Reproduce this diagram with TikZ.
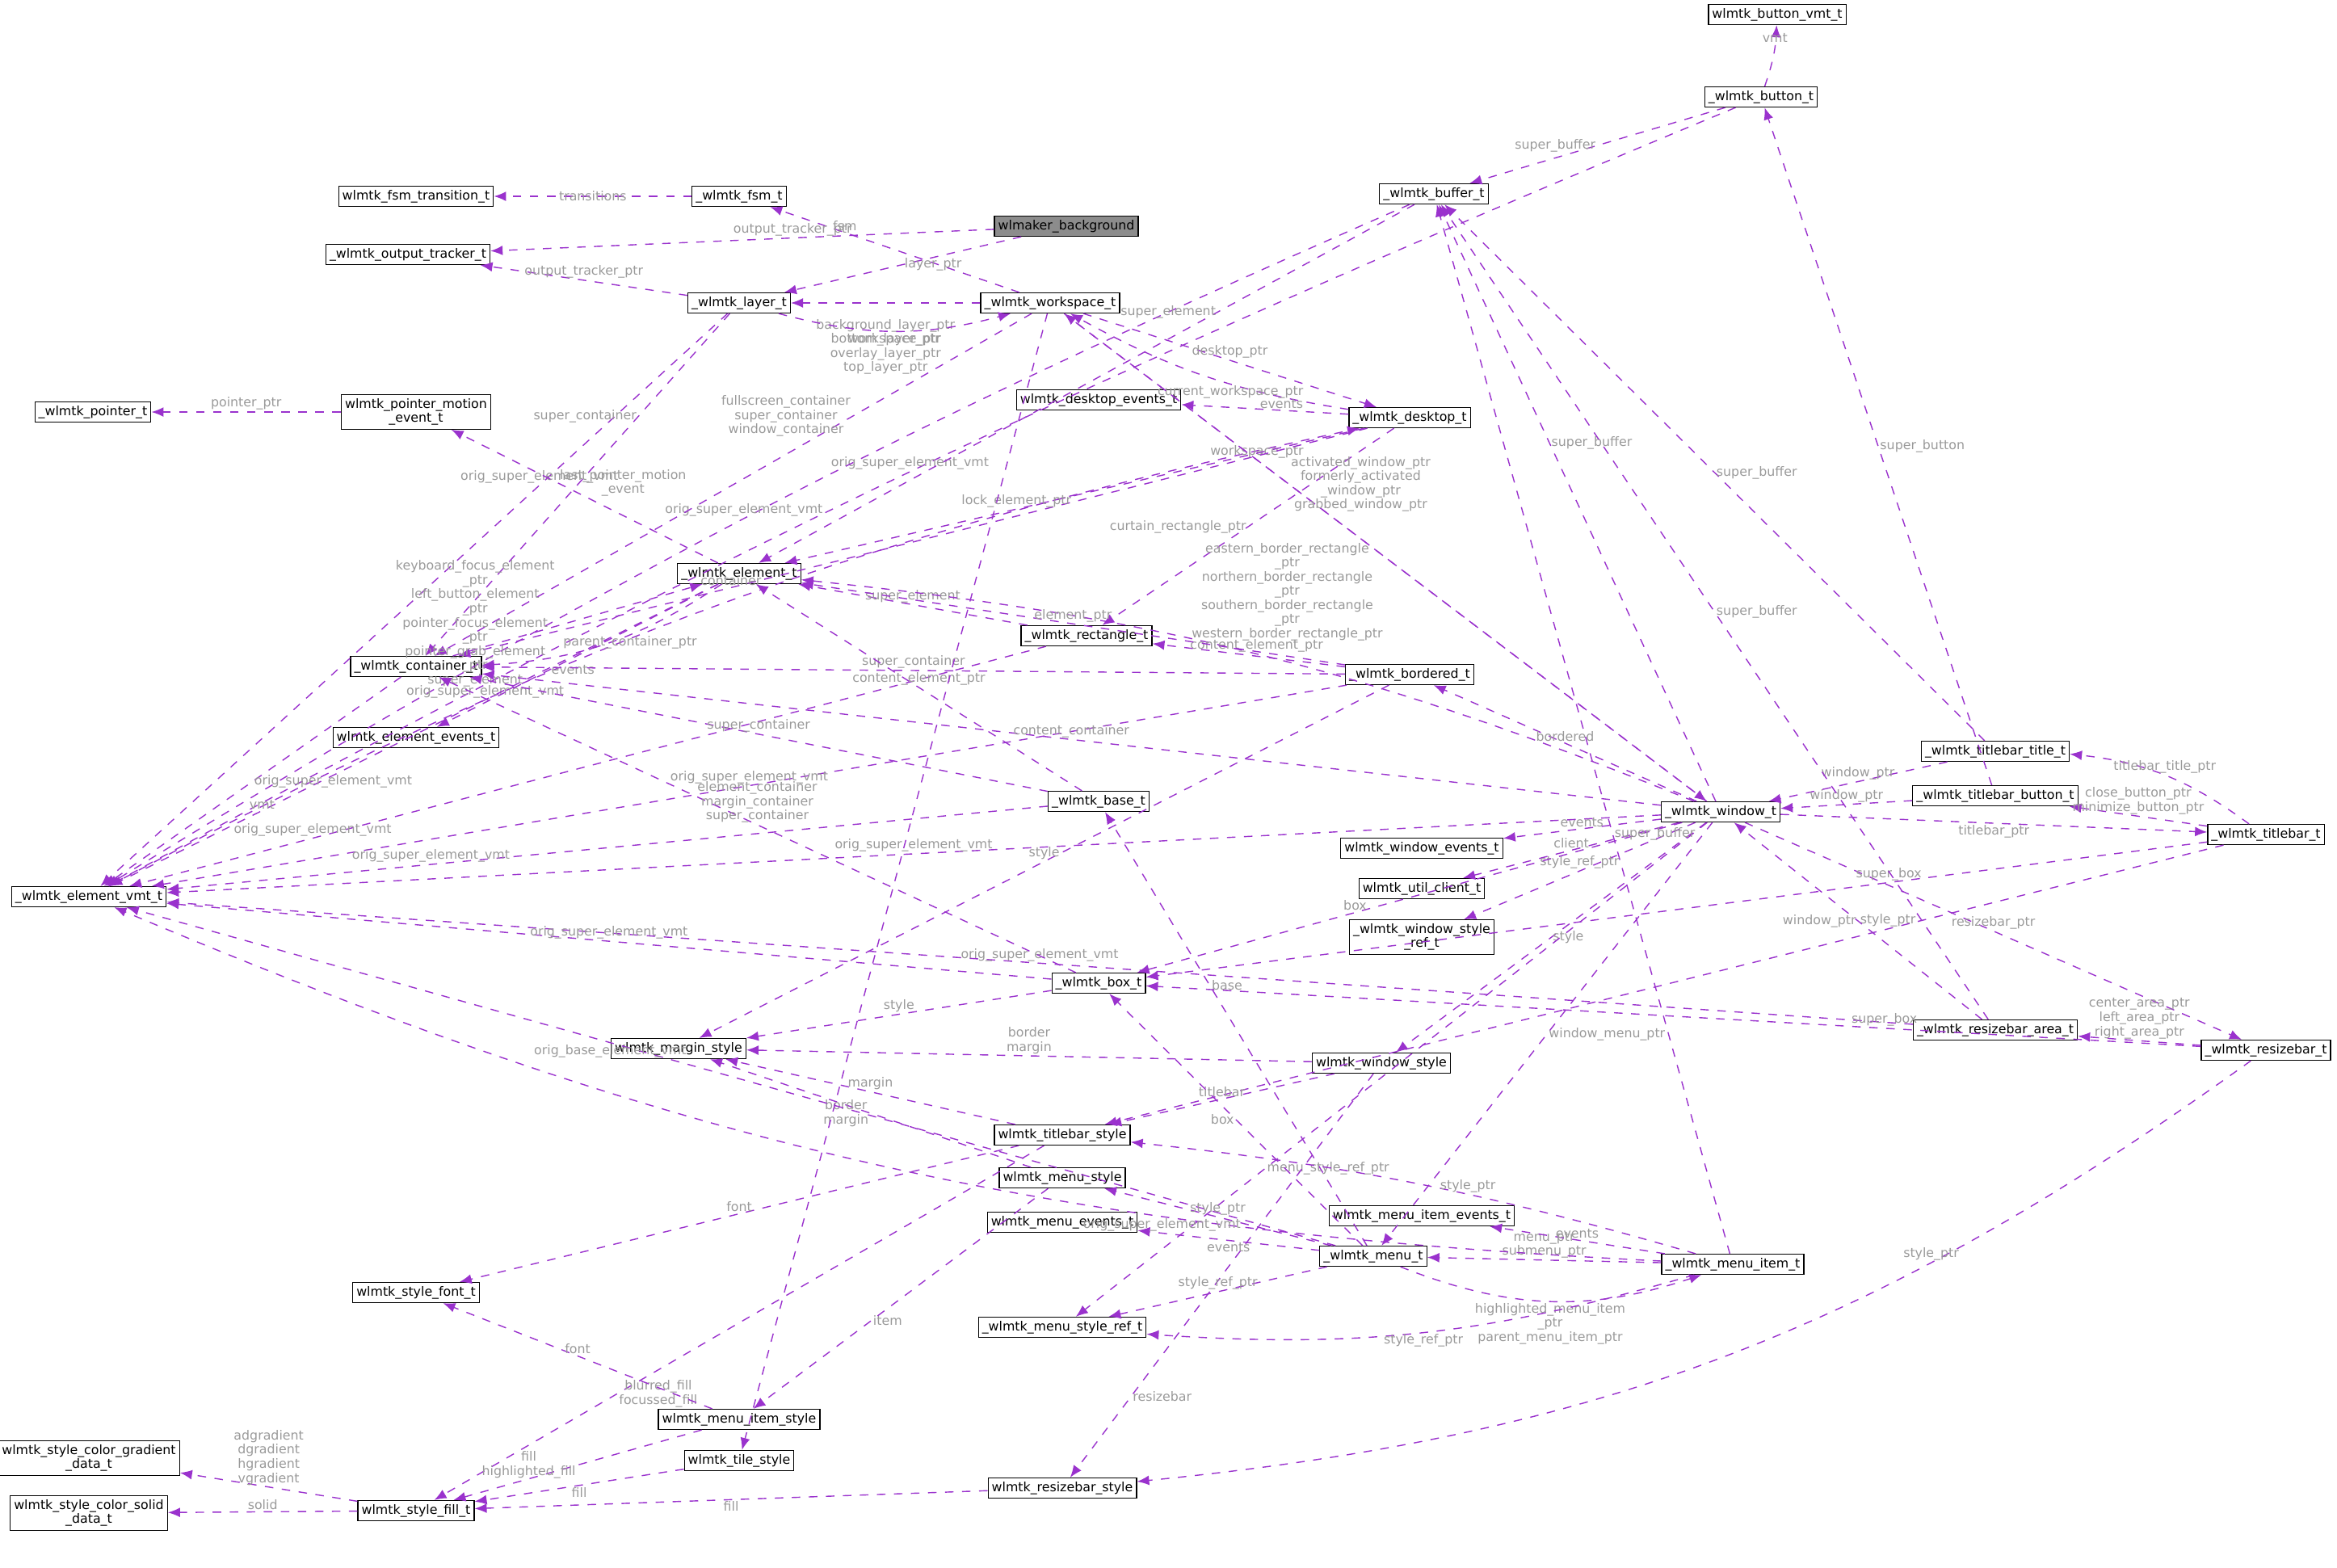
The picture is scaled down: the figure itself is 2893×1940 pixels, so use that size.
\documentclass[tikz,border=0pt]{standalone}
\usepackage{fontspec}
\setmainfont{DejaVu Sans}
\usetikzlibrary{arrows.meta}
\definecolor{edgecol}{HTML}{9A32CD}
\definecolor{lblcol}{HTML}{9A9A9A}
\tikzset{
  cls/.style={draw=black, fill=white, line width=0.35pt, inner sep=1.3pt,
    minimum height=2.5mm, font=\fontsize{4.5}{5}\selectfont, align=center},
  edge/.style={draw=edgecol, dashed, line width=0.4pt, -{Latex[length=1.5mm,width=1.2mm]}},
  lbl/.style={font=\fontsize{4.5}{5}\selectfont, text=lblcol, align=center, inner sep=0.5pt}
}
\begin{document}
\begin{tikzpicture}[x=0.1mm,y=-0.1mm]
    \useasboundingbox (0,0) rectangle (2893,1940);
    % classes
    \node[cls] (bvmt) at (2200,18) {wlmtk\_button\_vmt\_t};
    \node[cls] (button) at (2180,120) {\_wlmtk\_button\_t};
    \node[cls] (fsm) at (915,243) {\_wlmtk\_fsm\_t};
    \node[cls] (fsmtr) at (515,243) {wlmtk\_fsm\_transition\_t};
    \node[cls, fill=black!45] (bg) at (1320,280) {wlmaker\_background};
    \node[cls] (buffer) at (1775,240) {\_wlmtk\_buffer\_t};
    \node[cls] (otrack) at (505,315) {\_wlmtk\_output\_tracker\_t};
    \node[cls] (layer) at (915,375) {\_wlmtk\_layer\_t};
    \node[cls] (wspace) at (1300,375) {\_wlmtk\_workspace\_t};
    \node[cls] (pointer) at (115,510) {\_wlmtk\_pointer\_t};
    \node[cls] (pme) at (515,510) {wlmtk\_pointer\_motion\\\_event\_t};
    \node[cls] (devents) at (1360,495) {wlmtk\_desktop\_events\_t};
    \node[cls] (desktop) at (1745,517) {\_wlmtk\_desktop\_t};
    \node[cls] (element) at (915,710) {\_wlmtk\_element\_t};
    \node[cls] (rect) at (1345,787) {\_wlmtk\_rectangle\_t};
    \node[cls] (cont) at (515,825) {\_wlmtk\_container\_t};
    \node[cls] (border) at (1745,835) {\_wlmtk\_bordered\_t};
    \node[cls] (eevents) at (515,913) {wlmtk\_element\_events\_t};
    \node[cls] (tbtitle) at (2470,930) {\_wlmtk\_titlebar\_title\_t};
    \node[cls] (window) at (2130,1005) {\_wlmtk\_window\_t};
    \node[cls] (tbbutton) at (2470,985) {\_wlmtk\_titlebar\_button\_t};
    \node[cls] (base) at (1360,992) {\_wlmtk\_base\_t};
    \node[cls] (evmt) at (110,1110) {\_wlmtk\_element\_vmt\_t};
    \node[cls] (wevents) at (1760,1050) {wlmtk\_window\_events\_t};
    \node[cls] (tbar) at (2805,1033) {\_wlmtk\_titlebar\_t};
    \node[cls] (client) at (1760,1100) {wlmtk\_util\_client\_t};
    \node[cls] (wsref) at (1760,1160) {\_wlmtk\_window\_style\\\_ref\_t};
    \node[cls] (box) at (1360,1217) {\_wlmtk\_box\_t};
    \node[cls] (margin) at (840,1298) {wlmtk\_margin\_style};
    \node[cls] (rbarea) at (2470,1275) {\_wlmtk\_resizebar\_area\_t};
    \node[cls] (rbar) at (2805,1300) {\_wlmtk\_resizebar\_t};
    \node[cls] (wstyle) at (1710,1316) {wlmtk\_window\_style};
    \node[cls] (tbstyle) at (1315,1405) {wlmtk\_titlebar\_style};
    \node[cls] (mstyle) at (1315,1458) {wlmtk\_menu\_style};
    \node[cls] (mievents) at (1760,1505) {wlmtk\_menu\_item\_events\_t};
    \node[cls] (mevents) at (1315,1513) {wlmtk\_menu\_events\_t};
    \node[cls] (menu) at (1700,1555) {\_wlmtk\_menu\_t};
    \node[cls] (mitem) at (2145,1565) {\_wlmtk\_menu\_item\_t};
    \node[cls] (font) at (515,1600) {wlmtk\_style\_font\_t};
    \node[cls] (msref) at (1315,1643) {\_wlmtk\_menu\_style\_ref\_t};
    \node[cls] (mistyle) at (915,1757) {wlmtk\_menu\_item\_style};
    \node[cls] (grad) at (110,1805) {wlmtk\_style\_color\_gradient\\\_data\_t};
    \node[cls] (tstyle) at (915,1808) {wlmtk\_tile\_style};
    \node[cls] (rbstyle) at (1315,1842) {wlmtk\_resizebar\_style};
    \node[cls] (solid) at (110,1873) {wlmtk\_style\_color\_solid\\\_data\_t};
    \node[cls] (fill) at (515,1870) {wlmtk\_style\_fill\_t};
    % connectors
    \draw[edge] (button) to[bend right=8] node[lbl,pos=0.7,above] {vmt} (bvmt);
    \draw[edge] (button) to[bend right=3] node[lbl,pos=0.5,above] {orig\_super\_element\_vmt} (evmt);
    \draw[edge] (button) -- node[lbl,pos=0.5,left] {super\_buffer} (buffer);
    \draw[edge] (buffer) to[bend right=4] node[lbl,pos=0.5,above] {orig\_super\_element\_vmt} (evmt);
    \draw[edge] (buffer) -- node[lbl,pos=0.3,left] {super\_element} (element);
    \draw[edge] (evmt) to[bend left=8] node[lbl,pos=0.3,above] {orig\_super\_element\_vmt} (desktop);
    \draw[edge] (fsm) -- node[lbl] {transitions} (fsmtr);
    \draw[edge] (wspace) -- node[lbl,pos=0.7,above] {fsm} (fsm);
    \draw[edge] (bg) -- node[lbl,pos=0.4,above] {output\_tracker\_ptr} (otrack);
    \draw[edge] (bg) -- node[lbl,pos=0.5,right] {layer\_ptr} (layer);
    \draw[edge] (window) -- node[lbl,pos=0.7,above] {workspace\_ptr} (wspace);
    \draw[edge] (layer) -- node[lbl,above] {output\_tracker\_ptr} (otrack);
    \draw[edge] (wspace) -- node[lbl,pos=0.5,below=5pt] {background\_layer\_ptr\\bottom\_layer\_ptr\\overlay\_layer\_ptr\\top\_layer\_ptr} (layer);
    \draw[edge] (layer) to[bend right=15] node[lbl,below] {workspace\_ptr} (wspace);
    \draw[edge] (layer) -- node[lbl,pos=0.3,above] {orig\_super\_element\_vmt} (evmt);
    \draw[edge] (layer) -- node[lbl,pos=0.3,left] {super\_container} (cont);
    \draw[edge] (wspace) -- node[lbl,pos=0.3,left] {fullscreen\_container\\super\_container\\window\_container} (cont);
    \draw[edge] (wspace) -- node[lbl,pos=0.5,above] {desktop\_ptr} (desktop);
    \draw[edge] (desktop) to[bend left=10] node[lbl,pos=0.4,below] {current\_workspace\_ptr} (wspace);
    \draw[edge] (pme) -- node[lbl,above] {pointer\_ptr} (pointer);
    \draw[edge] (element) -- node[lbl,pos=0.6,right] {last\_pointer\_motion\\\_event} (pme);
    \draw[edge] (desktop) -- node[lbl,pos=0.4,above] {events} (devents);
    \draw[edge] (desktop) -- node[lbl,pos=0.7,above] {container} (cont);
    \draw[edge] (desktop) -- node[lbl,pos=0.6,above] {lock\_element\_ptr} (element);
    \draw[edge] (desktop) -- node[lbl,pos=0.5,left] {curtain\_rectangle\_ptr} (rect);
    \draw[edge] (element) -- node[lbl,pos=0.75,above] {vmt} (evmt);
    \draw[edge] (cont) -- node[lbl,pos=0.45,left=3pt] {keyboard\_focus\_element\\\_ptr\\left\_button\_element\\\_ptr\\pointer\_focus\_element\\\_ptr\\pointer\_grab\_element\\\_ptr\\super\_element} (element);
    \draw[edge] (element) to[bend left=15] node[lbl,pos=0.4,below] {parent\_container\_ptr} (cont);
    \draw[edge] (cont) -- node[lbl,pos=0.5,right] {orig\_super\_element\_vmt} (evmt);
    \draw[edge] (element) -- node[lbl,pos=0.6,right] {events} (eevents);
    \draw[edge] (rect) -- node[lbl,pos=0.5,above] {super\_element} (element);
    \draw[edge] (rect) -- node[lbl,pos=0.8,above] {orig\_super\_element\_vmt} (evmt);
    \draw[edge] (window) to[bend right=8] node[lbl,pos=0.5,above] {content\_element\_ptr} (element);
    \draw[edge] (border) -- node[lbl,pos=0.5,above] {element\_ptr} (element);
    \draw[edge] (border) -- node[lbl,pos=0.3,above=6pt] {eastern\_border\_rectangle\\\_ptr\\northern\_border\_rectangle\\\_ptr\\southern\_border\_rectangle\\\_ptr\\western\_border\_rectangle\_ptr} (rect);
    \draw[edge] (border) -- node[lbl,pos=0.5,above] {super\_container} (cont);
    \draw[edge] (border) -- node[lbl,pos=0.5,above] {orig\_super\_element\_vmt} (evmt);
    \draw[edge] (border) -- node[lbl,pos=0.5,above] {style} (margin);
    \draw[edge] (base) -- node[lbl,pos=0.5,above] {content\_element\_ptr} (element);
    \draw[edge] (base) -- node[lbl,pos=0.5,above] {super\_container} (cont);
    \draw[edge] (base) -- node[lbl,pos=0.7,above] {orig\_super\_element\_vmt} (evmt);
    \draw[edge] (window) -- node[lbl,pos=0.5,above] {content\_container} (cont);
    \draw[edge] (window) -- node[lbl,pos=0.5,above] {bordered} (border);
    \draw[edge] (window) -- node[lbl,pos=0.6,right] {super\_buffer} (buffer);
    \draw[edge] (wspace) -- node[lbl,pos=0.35,right] {activated\_window\_ptr\\formerly\_activated\\\_window\_ptr\\grabbed\_window\_ptr} (window);
    \draw[edge] (window) -- node[lbl,pos=0.5,above] {events} (wevents);
    \draw[edge] (window) -- node[lbl,pos=0.5,above] {client} (client);
    \draw[edge] (window) -- node[lbl,pos=0.5,above] {style\_ref\_ptr} (wsref);
    \draw[edge] (window) -- node[lbl,pos=0.5,right] {style} (wstyle);
    \draw[edge] (window) -- node[lbl,pos=0.5,below] {titlebar\_ptr} (tbar);
    \draw[edge] (window) -- node[lbl,pos=0.5,above] {resizebar\_ptr} (rbar);
    \draw[edge] (window) -- node[lbl,pos=0.6,above] {box} (box);
    \draw[edge] (menu) -- node[lbl,pos=0.6,right] {base} (base);
    \draw[edge] (window) -- node[lbl,pos=0.5,above] {orig\_super\_element\_vmt} (evmt);
    \draw[edge] (window) -- node[lbl,pos=0.5,right] {window\_menu\_ptr} (menu);
    \draw[edge] (window) -- node[lbl,pos=0.7,right] {menu\_style\_ref\_ptr} (msref);
    \draw[edge] (tbtitle) -- node[lbl,pos=0.5,above] {window\_ptr} (window);
    \draw[edge] (tbtitle) -- node[lbl,pos=0.5,right] {super\_buffer} (buffer);
    \draw[edge] (tbbutton) -- node[lbl,pos=0.5,above] {window\_ptr} (window);
    \draw[edge] (tbbutton) -- node[lbl,pos=0.5,right] {super\_button} (button);
    \draw[edge] (tbar) to[bend right=15] node[lbl,pos=0.5,above] {titlebar\_title\_ptr} (tbtitle);
    \draw[edge] (tbar) -- node[lbl,pos=0.5,above] {close\_button\_ptr\\minimize\_button\_ptr} (tbbutton);
    \draw[edge] (tbar) -- node[lbl,pos=0.3,above] {super\_box} (box);
    \draw[edge] (tbar) -- node[lbl,pos=0.3,above] {style\_ptr} (tbstyle);
    \draw[edge] (rbarea) -- node[lbl,pos=0.5,left] {window\_ptr} (window);
    \draw[edge] (rbarea) -- node[lbl,pos=0.5,right] {super\_buffer} (buffer);
    \draw[edge] (rbarea) -- node[lbl,pos=0.5,above] {orig\_super\_element\_vmt} (evmt);
    \draw[edge] (rbar) -- node[lbl,pos=0.5,above] {center\_area\_ptr\\left\_area\_ptr\\right\_area\_ptr} (rbarea);
    \draw[edge] (rbar) -- node[lbl,pos=0.3,above] {super\_box} (box);
    \draw[edge] (rbar) to[bend left=15] node[lbl,pos=0.3,above] {style\_ptr} (rbstyle);
    \draw[edge] (box) -- node[lbl,pos=0.5,above] {element\_container\\margin\_container\\super\_container} (cont);
    \draw[edge] (box) -- node[lbl,pos=0.5,above] {style} (margin);
    \draw[edge] (box) -- node[lbl,pos=0.5,above] {orig\_super\_element\_vmt} (evmt);
    \draw[edge] (wstyle) -- node[lbl,pos=0.5,above] {border\\margin} (margin);
    \draw[edge] (wstyle) -- node[lbl,pos=0.5,above] {titlebar} (tbstyle);
    \draw[edge] (wstyle) -- node[lbl,pos=0.8,right] {resizebar} (rbstyle);
    \draw[edge] (tbstyle) -- node[lbl,pos=0.5,above] {margin} (margin);
    \draw[edge] (tbstyle) -- node[lbl,pos=0.5,above] {font} (font);
    \draw[edge] (tbstyle) -- node[lbl,pos=0.7,right] {blurred\_fill\\focussed\_fill} (fill);
    \draw[edge] (mstyle) -- node[lbl,pos=0.5,left] {border\\margin} (margin);
    \draw[edge] (mstyle) -- node[lbl,pos=0.6,right] {item} (mistyle);
    \draw[edge] (menu) -- node[lbl,pos=0.6,below] {orig\_base\_element\_vmt} (evmt);
    \draw[edge] (menu) -- node[lbl,pos=0.5,left] {box} (box);
    \draw[edge] (menu) -- node[lbl,pos=0.5,above] {style\_ptr} (mstyle);
    \draw[edge] (menu) -- node[lbl,pos=0.5,below] {events} (mevents);
    \draw[edge] (menu) -- node[lbl,pos=0.5,above] {style\_ref\_ptr} (msref);
    \draw[edge] (mitem) -- node[lbl,pos=0.5,above] {menu\_ptr\\submenu\_ptr} (menu);
    \draw[edge] (menu) to[bend right=20] node[lbl,pos=0.5,below] {highlighted\_menu\_item\\\_ptr\\parent\_menu\_item\_ptr} (mitem);
    \draw[edge] (mitem) -- node[lbl,pos=0.5,above] {events} (mievents);
    \draw[edge] (mitem) to[bend right=5] node[lbl,pos=0.4,above] {style\_ptr} (tbstyle);
    \draw[edge] (mitem) to[bend left=10] node[lbl,pos=0.5,below] {style\_ref\_ptr} (msref);
    \draw[edge] (mitem) -- node[lbl,pos=0.4,right] {super\_buffer} (buffer);
    \draw[edge] (mitem) to[bend left=10] node[lbl,pos=0.3,below] {orig\_super\_element\_vmt} (evmt);
    \draw[edge] (mistyle) -- node[lbl,pos=0.5,above] {font} (font);
    \draw[edge] (mistyle) -- node[lbl,pos=0.5,left] {fill\\highlighted\_fill} (fill);
    \draw[edge] (tstyle) -- node[lbl,pos=0.5,below] {fill} (fill);
    \draw[edge] (wspace) -- (tstyle);
    \draw[edge] (fill) -- node[lbl,pos=0.5,above] {adgradient\\dgradient\\hgradient\\vgradient} (grad);
    \draw[edge] (fill) -- node[lbl,pos=0.5,above] {solid} (solid);
    \draw[edge] (rbstyle) -- node[lbl,pos=0.5,below] {fill} (fill);
\end{tikzpicture}
\end{document}
